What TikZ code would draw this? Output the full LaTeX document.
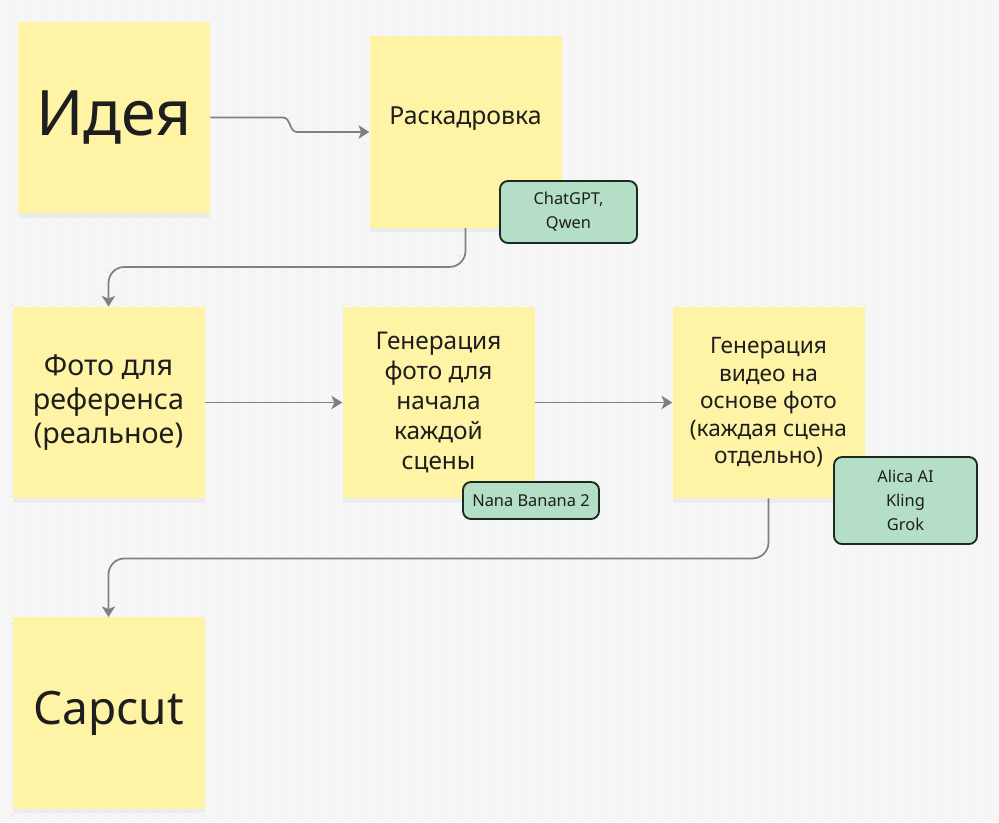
\documentclass[tikz,border=0pt]{standalone}
\usepackage{fontspec}
\setmainfont{Noto Sans}
\usetikzlibrary{arrows.meta,shadows}
\definecolor{board}{HTML}{F6F6F6}
\definecolor{griddot}{HTML}{D6D6D6}
\definecolor{stickyyellow}{HTML}{FFF4A6}
\definecolor{tagmint}{HTML}{B4DFC6}
\definecolor{tagborder}{HTML}{1B2A21}
\definecolor{linkgray}{HTML}{808080}
\definecolor{ink}{HTML}{1E1E1E}

\begin{document}
\begin{tikzpicture}[x=0.75pt, y=-0.75pt]
				\tikzstyle{every node}=[inner sep=0pt, align=center, text=ink]
				\tikzstyle{sticky}=[fill=stickyyellow, minimum width=144pt, minimum height=143.5pt, drop shadow={opacity=0.08, shadow xshift=0pt, shadow yshift=-3.5pt}]
				\tikzstyle{tag}=[fill=tagmint, draw=tagborder, line width=1.4pt, rounded corners=6pt, font=\fontsize{12.3}{18}\selectfont]
				\tikzstyle{link}=[draw=linkgray, line width=1.3pt, -{Stealth[length=8pt, width=10pt, inset=2pt]}]
				\useasboundingbox (0,0) rectangle (999,822);
				% board with dot grid
				\fill[board] (0,0) rectangle (999,822);
				\foreach \gx in {12,28,...,999}
					\foreach \gy in {0,16,...,822}
						\fill[griddot] (\gx,\gy) circle (0.7pt);
				% stickies
				\node[sticky, font=\fontsize{47}{56}\selectfont] (idea) at (114, 117.5) {Идея};
				\node[sticky, font=\fontsize{18.6}{24}\selectfont] (rask) at (465.5, 132) {Раскадровка\\\mbox{}};
				\node[sticky, font=\fontsize{21.5}{25.5}\selectfont] (photo) at (108.5, 402.5) {Фото для\\референса\\(реальное)};
				\node[sticky, font=\fontsize{18.3}{22.5}\selectfont] (genphoto) at (438.5, 402.5) {Генерация\\фото для\\начала\\каждой\\сцены};
				\node[sticky, font=\fontsize{17}{20.6}\selectfont] (genvideo) at (768.5, 402.5) {Генерация\\видео на\\основе фото\\(каждая сцена\\отдельно)};
				\node[sticky, font=\fontsize{34.5}{40}\selectfont] (capcut) at (108.5, 713) {Capcut};
				% tool tags
				\node[tag, minimum width=102.75pt, minimum height=46.5pt] (chat) at (568.5, 212) {ChatGPT,\\Qwen};
				\node[tag, minimum width=102pt, minimum height=27.75pt] (nana) at (531, 500.5) {Nana Banana 2};
				\node[tag, minimum width=107.25pt, minimum height=65.25pt] (alica) at (905.5, 500.5) {Alica AI\\Kling\\Grok};
				% links
				\draw[link] (idea.east) -- (283, 117.5) to[out=0, in=180] (297, 132) -- (rask.west);
				\draw[link, rounded corners=12pt] (rask.south) -- ++(0, 39) -| (photo.north);
				\draw[link] (photo.east) -- (genphoto.west);
				\draw[link] (genphoto.east) -- (genvideo.west);
				\draw[link, rounded corners=12pt] (genvideo.south) -- ++(0, 60) -| (capcut.north);
		\end{tikzpicture}
\end{document}
